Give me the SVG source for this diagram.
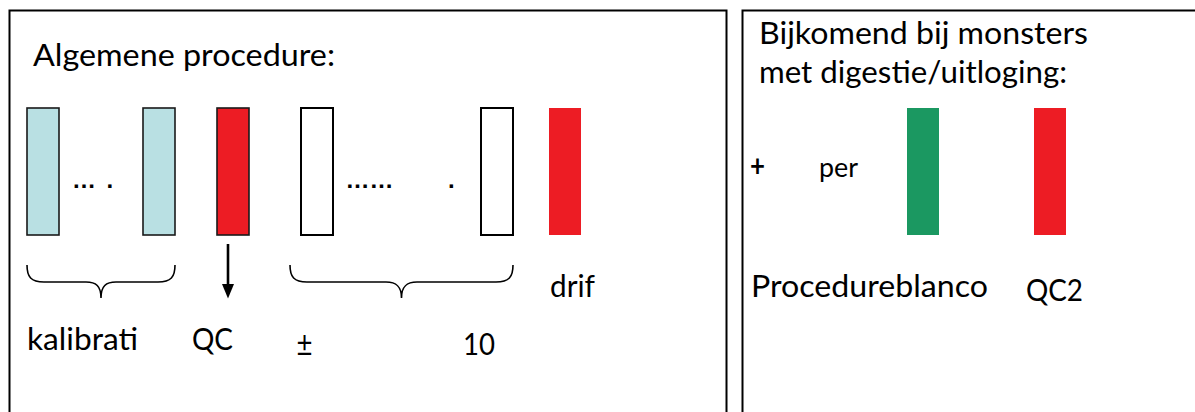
<svg xmlns="http://www.w3.org/2000/svg" width="1195" height="412" viewBox="0 0 1195 412">
  <style>
    .frame { fill: #ffffff; stroke: #000000; stroke-width: 2; }
    .cal { fill: #b9e0e3; stroke: #1a1a1a; stroke-width: 1.6; }
    .qc { fill: #ed1c24; stroke: #1a1a1a; stroke-width: 1.6; }
    .sample { fill: #ffffff; stroke: #000000; stroke-width: 2; }
    .drift { fill: #ed1c24; }
    .blank { fill: #1b9861; }
    .txt { font-family: Lato, "Liberation Sans", sans-serif; font-size: 31px; fill: #000000; }
    .small { font-size: 27px; }
    .sym { font-family: "Liberation Sans", Arial, sans-serif; font-size: 34px; fill: #000000; }
    .dots { font-family: "Liberation Sans", Arial, sans-serif; font-weight: bold; font-size: 24px; fill: #000000; }
    .brace { fill: none; stroke: #000000; stroke-width: 1.6; }
    .arrow { stroke: #000000; stroke-width: 2.6; }
  </style>

  <rect width="1195" height="412" fill="#ffffff"/>

  <!-- panel: general procedure -->
  <g id="panel-algemeen">
    <rect class="frame" x="9.5" y="10.5" width="717" height="430"/>
    <text class="txt" x="33" y="65.5" textLength="302" lengthAdjust="spacingAndGlyphs">Algemene procedure:</text>
  </g>

  <!-- panel: additional for digested / leached samples -->
  <g id="panel-bijkomend">
    <rect class="frame" x="742.5" y="10.5" width="470" height="430"/>
    <text class="txt" x="759" y="43.5" textLength="329" lengthAdjust="spacingAndGlyphs">Bijkomend bij monsters</text>
    <text class="txt" x="759" y="82.5" textLength="308" lengthAdjust="spacingAndGlyphs">met digestie/uitloging:</text>
  </g>

  <!-- calibration standards -->
  <g id="kalibratie">
    <rect class="cal" x="27" y="108" width="32" height="127"/>
    <text class="dots"><tspan x="72" y="188">…</tspan><tspan x="106.5" y="188">.</tspan></text>
    <rect class="cal" x="143" y="108" width="32" height="127"/>
    <text class="txt" x="27" y="350" textLength="111" lengthAdjust="spacingAndGlyphs">kalibrati</text>
  </g>

  <!-- first QC check -->
  <g id="qc">
    <rect class="qc" x="217" y="108" width="32" height="127"/>
    <text class="txt" x="192" y="350" textLength="41" lengthAdjust="spacingAndGlyphs">QC</text>
  </g>

  <!-- sample series -->
  <g id="monsters">
    <rect class="sample" x="301" y="108" width="32" height="127"/>
    <text class="dots"><tspan x="345.5" y="188">……</tspan><tspan x="448" y="188">.</tspan></text>
    <rect class="sample" x="481" y="108" width="32" height="127"/>
    <text class="sym" x="297" y="355" textLength="15" lengthAdjust="spacingAndGlyphs">±</text>
    <text class="txt" x="463" y="355" textLength="32" lengthAdjust="spacingAndGlyphs">10</text>
  </g>

  <!-- drift check -->
  <g id="drift">
    <rect class="drift" x="549" y="108" width="32" height="127"/>
    <text class="txt" x="550" y="297" textLength="45" lengthAdjust="spacingAndGlyphs">drif</text>
  </g>

  <!-- per-batch extras -->
  <g id="per">
    <text class="txt" x="750" y="177" font-weight="bold" font-size="24" textLength="15" lengthAdjust="spacingAndGlyphs">+</text>
    <text class="txt small" x="819" y="176.5" textLength="39" lengthAdjust="spacingAndGlyphs">per</text>
  </g>

  <g id="procedureblanco">
    <rect class="blank" x="907" y="108" width="32" height="127"/>
    <text class="txt" x="751" y="297" textLength="237" lengthAdjust="spacingAndGlyphs">Procedureblanco</text>
  </g>

  <g id="qc2">
    <rect class="drift" x="1034" y="108" width="32" height="127"/>
    <text class="txt" x="1026" y="301" textLength="57" lengthAdjust="spacingAndGlyphs">QC2</text>
  </g>

  <!-- connectors: braces and arrow -->
  <g id="connectors">
    <path class="brace" d="M27,265 C27,277 31,282 44,282 L86,282 C96,282 101,286 101,298 C101,286 106,282 116,282 L158,282 C171,282 175,277 175,265"/>
    <path class="brace" d="M290,265 C290,277 294,282 307,282 L386,282 C396,282 401.5,286 401.5,298 C401.5,286 407,282 417,282 L496,282 C509,282 513,277 513,265"/>
    <line class="arrow" x1="228" y1="244" x2="228" y2="285"/>
    <polygon points="222,284 234,284 228,298.5" fill="#000000"/>
  </g>
</svg>
